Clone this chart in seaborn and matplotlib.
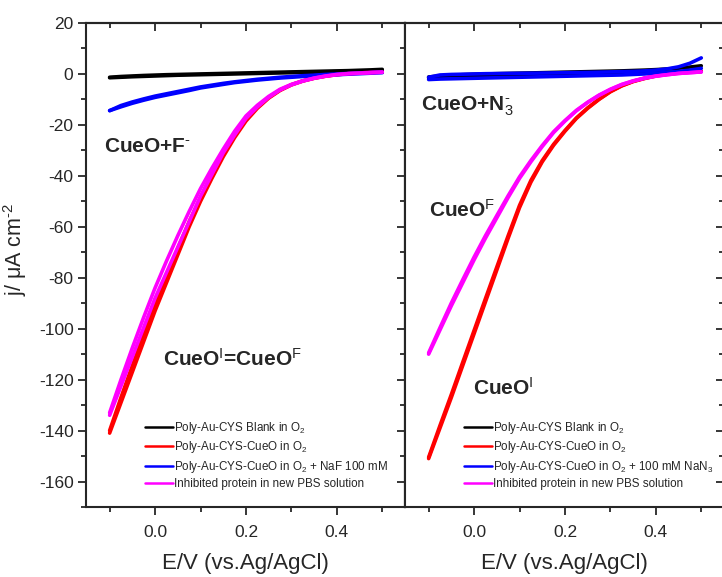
import matplotlib
matplotlib.use("Agg")
import matplotlib.pyplot as plt
from matplotlib.ticker import MultipleLocator, FormatStrFormatter
from matplotlib.lines import Line2D
import seaborn as sns
import pandas as pd

# Potential grid (V vs Ag/AgCl), shared by every sweep branch
potential = [-0.1, -0.075, -0.05, -0.025, 0.0, 0.025, 0.05, 0.075, 0.1, 0.125,
             0.15, 0.175, 0.2, 0.225, 0.25, 0.275, 0.3, 0.325, 0.35, 0.375,
             0.4, 0.425, 0.45, 0.475, 0.5]

# ---- Left panel: fluoride inhibition (current density, uA cm^-2) ----
fluoride_blank_a = [-1.5, -1.3, -1.1, -0.95, -0.8, -0.65, -0.5, -0.4, -0.3, -0.2,
                    -0.1, 0.0, 0.1, 0.2, 0.3, 0.4, 0.5, 0.6, 0.7, 0.8,
                    0.9, 1.0, 1.1, 1.2, 1.4]
fluoride_blank_b = [-1.3, -1.0, -0.8, -0.6, -0.45, -0.3, -0.2, -0.1, 0.0, 0.1,
                    0.2, 0.3, 0.4, 0.5, 0.6, 0.7, 0.8, 0.9, 1.0, 1.1,
                    1.2, 1.3, 1.45, 1.6, 1.8]
fluoride_cueo_a = [-141, -129, -117, -105, -93, -82, -71, -60, -50, -41,
                   -32.5, -25, -18.5, -13.5, -9.5, -6.5, -4.3, -2.8, -1.7, -0.9,
                   -0.3, 0.1, 0.4, 0.6, 0.8]
fluoride_cueo_b = [-140, -127, -114.5, -102.5, -90.5, -79.5, -68.5, -58, -48.5, -39.5,
                   -31.5, -24, -18, -13, -9.2, -6.3, -4.2, -2.7, -1.6, -0.8,
                   -0.2, 0.2, 0.4, 0.6, 0.8]
fluoride_naf_a = [-14.4, -12.9, -11.5, -10.3, -9.2, -8.3, -7.4, -6.5, -5.5, -4.8,
                  -4.1, -3.4, -2.9, -2.4, -2.0, -1.6, -1.3, -1.0, -0.7, -0.5,
                  -0.3, -0.1, 0.1, 0.3, 0.5]
fluoride_naf_b = [-14.4, -12.4, -11.0, -9.8, -8.7, -7.8, -6.9, -6.0, -5.1, -4.4,
                  -3.7, -3.1, -2.6, -2.1, -1.7, -1.3, -1.0, -0.7, -0.5, -0.2,
                  0.0, 0.2, 0.4, 0.6, 0.8]
fluoride_inhib_a = [-134, -122.5, -111, -99.5, -88, -78, -68, -58, -48, -39.5,
                    -31, -24, -17.5, -13, -9.2, -6.3, -4.3, -2.8, -1.7, -0.9,
                    -0.3, 0.1, 0.3, 0.5, 0.7]
fluoride_inhib_b = [-133, -120, -107.5, -95.5, -84, -73.5, -63.5, -54, -45, -37,
                    -29.5, -22.5, -16.5, -12.3, -8.8, -6, -4.1, -2.7, -1.6, -0.8,
                    -0.2, 0.1, 0.3, 0.5, 0.7]

# ---- Right panel: azide inhibition ----
azide_blank_a = [-1.5, -1.4, -1.3, -1.2, -1.1, -1.0, -0.9, -0.8, -0.7, -0.6,
                 -0.5, -0.4, -0.3, -0.2, -0.1, 0.0, 0.1, 0.2, 0.3, 0.4,
                 0.5, 0.6, 0.7, 0.8, 1.0]
azide_blank_b = [-1.2, -0.8, -0.5, -0.3, -0.15, 0.0, 0.1, 0.2, 0.3, 0.4,
                 0.5, 0.6, 0.7, 0.8, 0.9, 1.0, 1.1, 1.2, 1.35, 1.5,
                 1.7, 1.95, 2.25, 2.7, 3.2]
azide_cueo_a = [-151, -139, -127, -114.5, -102, -89.5, -77, -64.5, -52.5, -42.5,
                -34.5, -28, -22.5, -17.5, -13.5, -10, -7, -4.7, -3.0, -1.8,
                -0.8, -0.1, 0.4, 0.7, 1.0]
azide_cueo_b = [-150.5, -138, -125.8, -113.2, -100.7, -88.2, -75.8, -63.5, -51.6, -41.8,
                -34, -27.6, -22.2, -17.3, -13.3, -9.9, -6.9, -4.6, -2.9, -1.7,
                -0.7, -0.1, 0.4, 0.7, 1.0]
azide_nan3_a = [-2.2, -2.0, -1.9, -1.8, -1.7, -1.6, -1.5, -1.4, -1.3, -1.2,
                -1.1, -1.0, -0.9, -0.8, -0.7, -0.6, -0.5, -0.4, -0.2, 0.0,
                0.3, 0.6, 1.0, 1.5, 2.2]
azide_nan3_b = [-1.3, -0.4, -0.2, -0.1, 0.0, 0.1, 0.15, 0.2, 0.25, 0.3,
                0.35, 0.4, 0.5, 0.55, 0.6, 0.7, 0.8, 0.9, 1.0, 1.2,
                1.5, 2.0, 2.8, 4.2, 6.3]
azide_inhib_a = [-110, -100.5, -91, -82, -73, -64.5, -56.5, -48.5, -41, -34.5,
                 -28.5, -23, -18.5, -14.5, -11.2, -8.4, -6.1, -4.2, -2.8, -1.7,
                 -0.9, -0.3, 0.2, 0.5, 0.8]
azide_inhib_b = [-109.5, -99.6, -89.9, -80.8, -71.9, -63.5, -55.6, -47.8, -40.4, -34,
                 -28.1, -22.7, -18.3, -14.3, -11.1, -8.3, -6, -4.1, -2.7, -1.6,
                 -0.8, -0.3, 0.2, 0.5, 0.8]

series_order = ["blank", "cueo", "inhibitor", "inhibited"]
series_colors = {"blank": "#000000", "cueo": "#FF0000",
                 "inhibitor": "#0000FF", "inhibited": "#FF00FF"}

panels = {
    "fluoride": {"blank": (fluoride_blank_a, fluoride_blank_b),
                 "cueo": (fluoride_cueo_a, fluoride_cueo_b),
                 "inhibitor": (fluoride_naf_a, fluoride_naf_b),
                 "inhibited": (fluoride_inhib_a, fluoride_inhib_b)},
    "azide": {"blank": (azide_blank_a, azide_blank_b),
              "cueo": (azide_cueo_a, azide_cueo_b),
              "inhibitor": (azide_nan3_a, azide_nan3_b),
              "inhibited": (azide_inhib_a, azide_inhib_b)},
}

rows = []
for panel, curves in panels.items():
    for series, branches in curves.items():
        for b, values in enumerate(branches):
            for e, j in zip(potential, values):
                rows.append({"panel": panel, "series": series, "branch": b,
                             "E": e, "j": j})
df = pd.DataFrame(rows)

legend_labels = {
    "fluoride": ["Poly-Au-CYS Blank in O$_2$",
                 "Poly-Au-CYS-CueO in O$_2$",
                 "Poly-Au-CYS-CueO in O$_2$ + NaF 100 mM",
                 "Inhibited protein in new PBS solution"],
    "azide": ["Poly-Au-CYS Blank in O$_2$",
              "Poly-Au-CYS-CueO in O$_2$",
              "Poly-Au-CYS-CueO in O$_2$ + 100 mM NaN$_3$",
              "Inhibited protein in new PBS solution"],
}

sns.set_style("ticks")
plt.rcParams["font.family"] = ["Liberation Sans", "DejaVu Sans"]
plt.rcParams["mathtext.fontset"] = "custom"
plt.rcParams["mathtext.rm"] = "Liberation Sans"
plt.rcParams["mathtext.it"] = "Liberation Sans:italic"
plt.rcParams["mathtext.bf"] = "Liberation Sans:bold"
plt.rcParams["axes.linewidth"] = 1.5
plt.rcParams["axes.unicode_minus"] = False

W, H = 722, 577
fig = plt.figure(figsize=(W / 100, H / 100), dpi=100)
ax_l = fig.add_axes([86 / W, (H - 507) / H, 319 / W, 484 / H])
ax_r = fig.add_axes([405 / W, (H - 507) / H, 319 / W, 484 / H])

tick_kw_major = dict(length=6, width=1.3)
tick_kw_minor = dict(length=3.5, width=1.3)

for ax, panel in ((ax_l, "fluoride"), (ax_r, "azide")):
    sub = df[df["panel"] == panel]
    for series in series_order:
        sns.lineplot(data=sub[sub["series"] == series], x="E", y="j",
                     units="branch", estimator=None, sort=False,
                     color=series_colors[series], lw=2.6, ax=ax, legend=False,
                     solid_joinstyle="round", solid_capstyle="round")
    ax.set_xlim(-0.152, 0.55)
    ax.set_ylim(-170, 20)
    ax.xaxis.set_major_locator(MultipleLocator(0.2))
    ax.xaxis.set_minor_locator(MultipleLocator(0.1))
    ax.yaxis.set_major_locator(MultipleLocator(20))
    ax.yaxis.set_minor_locator(MultipleLocator(10))
    ax.tick_params(axis="x", which="major", direction="out", labelsize=12.5,
                   pad=7, top=False, **tick_kw_major)
    ax.tick_params(axis="x", which="minor", direction="out", top=False,
                   **tick_kw_minor)
    ax.xaxis.set_major_formatter(FormatStrFormatter("%.1f"))
    ax.set_xlabel("E/V (vs.Ag/AgCl)", fontsize=16, labelpad=9)
    ax.set_ylabel("")
    for sp in ax.spines.values():
        sp.set_visible(True)
        sp.set_linewidth(1.5)

    # inward ticks on the top edge
    top = ax.secondary_xaxis("top")
    top.xaxis.set_major_locator(MultipleLocator(0.2))
    top.xaxis.set_minor_locator(MultipleLocator(0.1))
    top.tick_params(which="major", direction="in", labeltop=False, **tick_kw_major)
    top.tick_params(which="minor", direction="in", **tick_kw_minor)
    top.spines["top"].set_linewidth(1.5)

    # inward ticks on the right edge
    right = ax.secondary_yaxis("right")
    right.yaxis.set_major_locator(MultipleLocator(20))
    right.yaxis.set_minor_locator(MultipleLocator(10))
    right.tick_params(which="major", direction="in", labelright=False, **tick_kw_major)
    right.tick_params(which="minor", direction="in", **tick_kw_minor)
    right.spines["right"].set_linewidth(1.5)

    handles = [Line2D([], [], color=series_colors[s], lw=1.8) for s in series_order]
    ax.legend(handles, legend_labels[panel], loc="lower left",
              bbox_to_anchor=(0.17, 0.025), frameon=False, fontsize=8.4,
              handlelength=2.4, handletextpad=0.1, labelspacing=0.3,
              borderaxespad=0)

# left panel: outward labelled y ticks
ax_l.tick_params(axis="y", which="major", direction="out", labelsize=12.5,
                 pad=3, right=False, **tick_kw_major)
ax_l.tick_params(axis="y", which="minor", direction="out", right=False,
                 **tick_kw_minor)
# right panel: no ticks on the shared divider
ax_r.tick_params(axis="y", which="both", left=False, labelleft=False, right=False)

# annotations
bold = dict(fontsize=15, fontweight="bold", ha="left", va="baseline")
ax_l.text(-0.112, -30.6, "CueO+F$^{\\text{-}}$", **bold)
ax_l.text(0.018, -114.5, "CueO$^{\\mathrm{I}}$=CueO$^{\\mathrm{F}}$", **bold)
ax_r.text(-0.116, -14.5, "CueO+N$_3^{\\text{-}}$", **bold)
ax_r.text(-0.1, -56.2, "CueO$^{\\mathrm{F}}$", **bold)
ax_r.text(-0.003, -125.9, "CueO$^{\\mathrm{I}}$", **bold)

fig.text(15 / W, 1 - 249 / H, "j/ \u03bcA cm$^{\\text{-}2}$", rotation=90,
         ha="center", va="center", fontsize=15.5)

fig.savefig("out.png", dpi=100)
